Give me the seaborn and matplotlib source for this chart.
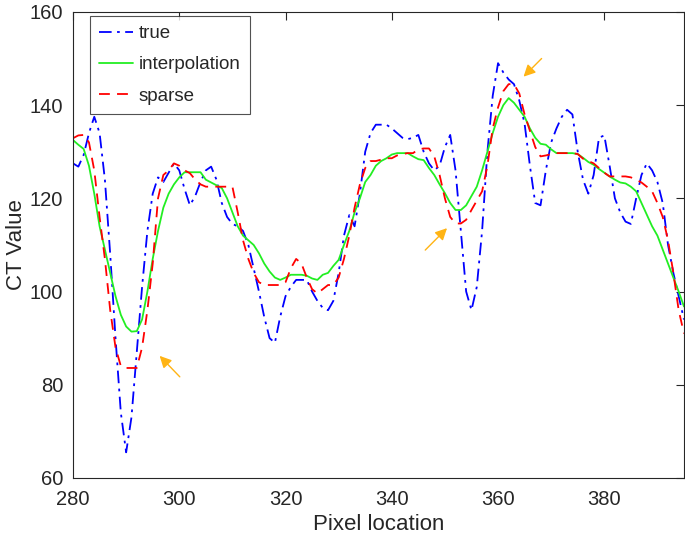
import numpy as np
import seaborn as sns
import matplotlib.pyplot as plt

# Pixel positions along the profile
pixel = np.arange(280, 396)

# CT values
true_vals = [127.5, 126.8, 129.3, 134, 137.5, 134, 124, 108, 90, 74,
             65.5, 73, 87, 101, 113, 121, 124.5, 123.5, 125.5, 127.5,
             126, 122, 118.5, 120.5, 123.5, 126, 126.8, 124, 119, 116,
             114.5, 114, 113, 110, 105, 100, 94.5, 90, 89, 94.6,
             99, 101, 102.5, 102.5, 102.5, 100, 98, 96.5, 96, 98,
             104, 112, 116.4, 114, 121, 130, 134, 135.8, 135.8, 135.8,
             135, 134, 133, 132.7, 133, 133.6, 130, 127.5, 126, 127,
             131, 133.6, 126, 113, 100, 96, 101, 113, 130, 142,
             149, 147, 145.5, 144.5, 141, 136, 127, 119, 118.5, 126,
             132, 135, 137.5, 139, 138, 130, 124, 121, 125, 133,
             133.5, 127, 120, 117, 115, 114.5, 120, 125, 127.5, 126,
             123.5, 119, 110, 104, 99, 94]

interp_vals = [132.5, 131.5, 130.6, 127, 121, 114, 109, 104, 99, 95,
               92.5, 91.4, 91.5, 94, 100, 107, 113, 118, 121, 123,
               124.5, 125.6, 125.6, 125.6, 125.6, 124, 123.4, 122.8, 122.2, 120,
               117, 114, 112, 111, 110, 108.2, 106, 104.3, 103, 102.5,
               103, 103.6, 103.6, 103.6, 103.4, 102.8, 102.5, 103.6, 104, 105.5,
               106.8, 110, 113, 117, 120, 123.5, 125, 127, 128, 128.6,
               129.4, 129.7, 129.7, 129.7, 129, 128.4, 128.2, 126.5, 125, 123,
               121.1, 119, 117.5, 117.5, 118.5, 120.5, 122.5, 126, 130, 134,
               137.5, 140, 141.5, 140.5, 139, 137.5, 135, 133, 131.7, 131.5,
               130.5, 129.7, 129.7, 129.7, 129.7, 129.5, 128.7, 127.8, 127.2, 126.3,
               125.5, 124.7, 124, 123.4, 123.2, 122.5, 121.5, 119, 116.5, 114,
               112, 109, 106, 103, 100, 96.8]

sparse_vals = [132.9, 133.5, 133.6, 132, 126, 116, 107, 96, 88, 84,
               83.6, 83.6, 83.6, 88, 96, 106, 120, 125, 126, 127.5,
               127, 126, 125.4, 124, 123, 122.5, 122.5, 122.5, 122.5, 122.5,
               122.5, 117, 111, 107, 104, 102, 101.4, 101.4, 101.4, 101.4,
               102, 105, 107, 106, 103, 100.5, 99.6, 100.5, 101.4, 101.4,
               103, 107, 112, 118, 123, 126.5, 128, 128, 128.3, 128.6,
               128.6, 129.2, 129.5, 129.7, 129.7, 130.5, 130.7, 130.7, 129, 125,
               120, 116, 114.6, 114.6, 115.4, 117.5, 119.5, 121.5, 127, 135,
               139.5, 143, 144.5, 144.5, 142.5, 138, 134.5, 131, 129, 129.2,
               129.5, 129.7, 129.7, 129.7, 129.7, 129.5, 128.5, 128, 127.5, 126.5,
               125.5, 124.7, 124.7, 124.7, 124.7, 124.5, 124, 123.4, 122.5, 121.5,
               119, 116, 111, 104, 96, 91]

sns.set_style('white')
plt.rcParams['font.family'] = ['Liberation Sans', 'DejaVu Sans']

fig = plt.figure(figsize=(6.85, 5.41), dpi=100)
ax = fig.add_axes([0.1066, 0.1165, 0.8919, 0.8615])

sns.lineplot(x=pixel, y=true_vals, ax=ax, color='#0000ff', linestyle=(0, (7, 3, 1.5, 3)),
             linewidth=1.3, label='true')
sns.lineplot(x=pixel, y=interp_vals, ax=ax, color='#22ee22', linestyle='-',
             linewidth=1.3, label='interpolation')
sns.lineplot(x=pixel, y=sparse_vals, ax=ax, color='#ff0000', linestyle=(0, (6, 4)),
             linewidth=1.3, label='sparse')

# orange arrows pointing at the sparse reconstruction
arrow_col = '#ffb414'
for tip, tail in [((296.3, 86.2), (300.1, 81.7)),
                  ((350.4, 113.6), (346.3, 108.9)),
                  ((364.8, 146.1), (368.2, 150.0))]:
    ax.annotate('', xy=tip, xytext=tail,
                arrowprops=dict(arrowstyle='-|>,head_length=0.7,head_width=0.35',
                                color=arrow_col, lw=1.0, shrinkA=0, shrinkB=0))

ax.set_xlim(280, 395)
ax.set_ylim(60, 160)
ax.set_xticks([280, 300, 320, 340, 360, 380])
ax.set_yticks([60, 80, 100, 120, 140, 160])
ax.set_xlabel('Pixel location', fontsize=16, color='#262626', labelpad=3)
ax.set_ylabel('CT Value', fontsize=16, color='#262626', labelpad=2)
ax.tick_params(direction='in', length=6, width=0.8, labelsize=14.5,
               top=True, right=True, colors='#262626')
ax.tick_params(axis='x', pad=9)
ax.tick_params(axis='y', pad=7)
for s in ax.spines.values():
    s.set_color('#262626')
    s.set_linewidth(0.8)

leg = ax.legend(loc='upper left', bbox_to_anchor=(0.027, 0.992), fontsize=13.5,
                frameon=True, fancybox=False, edgecolor='#262626',
                handlelength=1.8, borderpad=0.5, labelspacing=0.75,
                handletextpad=0.3, borderaxespad=0)
leg.get_frame().set_linewidth(0.8)

fig.savefig('out.png', dpi=100)
